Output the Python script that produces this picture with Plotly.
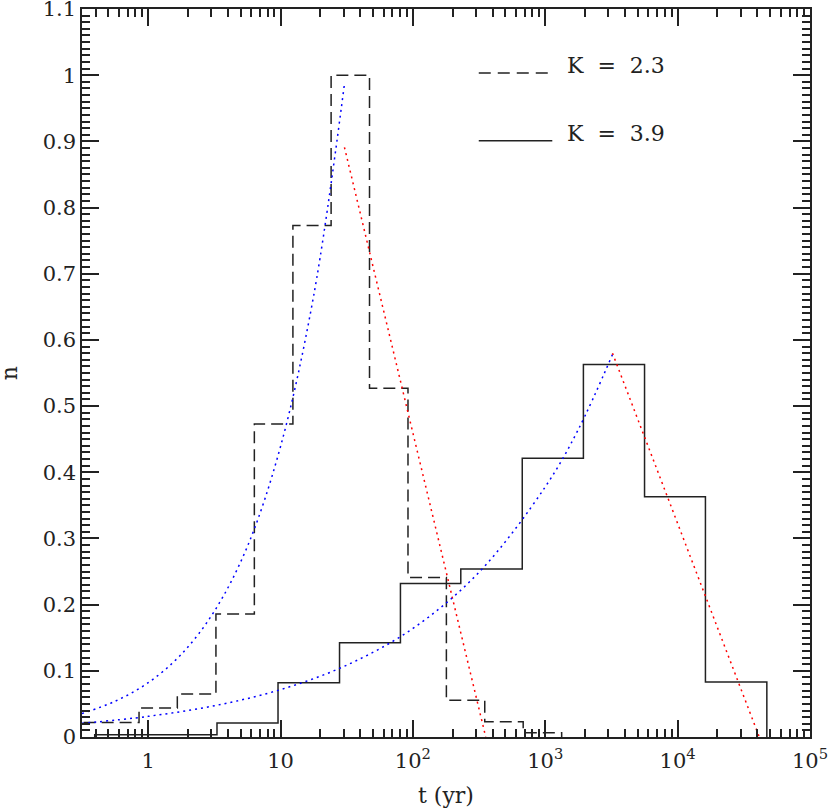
import plotly.graph_objects as go

# histogram bin edges (t in yr) and normalised counts
dashed_edges = [0.224, 0.437, 0.853, 1.66, 3.25, 6.34, 12.4, 24.1, 47.0, 91.8, 179, 349, 681, 1330]
dashed_n = [0.022, 0.022, 0.044, 0.065, 0.186, 0.473, 0.773, 1.0, 0.527, 0.241, 0.0555, 0.023, 0.0065]

solid_edges = [0.3945, 1.143, 3.31, 9.57, 27.9, 80.5, 230, 670, 1941, 5623, 16218, 47200]
solid_n = [0.0035, 0.0035, 0.021, 0.082, 0.1425, 0.232, 0.254, 0.421, 0.563, 0.363, 0.083]

# fitted curves (rising part: blue, falling part: red)
blue_dashed_t = [0.316, 0.562, 1.0, 1.78, 3.16, 5.62, 10.0, 17.8, 30.4]
blue_dashed_n = [0.0355, 0.054, 0.082, 0.125, 0.190, 0.288, 0.439, 0.667, 0.987]
red_dashed_t = [30.4, 355]
red_dashed_n = [0.891, 0.0]

blue_solid_t = [0.316, 1.0, 3.16, 10.0, 31.6, 100, 316, 1000, 1780, 3220]
blue_solid_n = [0.0206, 0.0312, 0.0472, 0.0716, 0.1085, 0.164, 0.249, 0.378, 0.465, 0.578]
red_solid_t = [3220, 41400]
red_solid_n = [0.58, 0.0]

x_tickvals = [1, 10, 100, 1000, 10000, 100000]
x_ticktext = ["1", "10", "10<sup>2</sup>", "10<sup>3</sup>", "10<sup>4</sup>", "10<sup>5</sup>"]
y_tickvals = [0, 0.1, 0.2, 0.3, 0.4, 0.5, 0.6, 0.7, 0.8, 0.9, 1.0, 1.1]
y_ticktext = ["0", "0.1", "0.2", "0.3", "0.4", "0.5", "0.6", "0.7", "0.8", "0.9", "1", "1.1"]

legend_labels = ["K\u00a0\u00a0=\u00a0\u00a02.3", "K\u00a0\u00a0=\u00a0\u00a03.9"]


def steps(edges, vals):
    xs, ys = [edges[0]], [0]
    for i, v in enumerate(vals):
        xs += [edges[i], edges[i + 1]]
        ys += [v, v]
    xs.append(edges[-1])
    ys.append(0)
    return xs, ys


FONT = "DejaVu Serif"
INK = "#222222"

fig = go.Figure()

dx, dy = steps(dashed_edges, dashed_n)
fig.add_trace(go.Scatter(x=dx, y=dy, mode="lines",
                         line=dict(color=INK, width=1.5, dash="12px,6px")))
sx, sy = steps(solid_edges, solid_n)
fig.add_trace(go.Scatter(x=sx, y=sy, mode="lines",
                         line=dict(color=INK, width=1.5)))

dot = "2px,4px"
fig.add_trace(go.Scatter(x=blue_dashed_t, y=blue_dashed_n, mode="lines", line_shape="spline",
                         line=dict(color="blue", width=1.5, dash=dot)))
fig.add_trace(go.Scatter(x=red_dashed_t, y=red_dashed_n, mode="lines",
                         line=dict(color="red", width=1.5, dash=dot)))
fig.add_trace(go.Scatter(x=blue_solid_t, y=blue_solid_n, mode="lines", line_shape="spline",
                         line=dict(color="blue", width=1.5, dash=dot)))
fig.add_trace(go.Scatter(x=red_solid_t, y=red_solid_n, mode="lines",
                         line=dict(color="red", width=1.5, dash=dot)))

# hand-drawn legend in paper coordinates
fig.add_shape(type="line", xref="paper", yref="paper", x0=0.545, x1=0.646, y0=0.912, y1=0.912,
              line=dict(color=INK, width=1.5, dash="12px,7px"))
fig.add_shape(type="line", xref="paper", yref="paper", x0=0.545, x1=0.646, y0=0.819, y1=0.819,
              line=dict(color=INK, width=1.5))
for lab, yy in zip(legend_labels, [0.922, 0.829]):
    fig.add_annotation(text=lab, xref="paper", yref="paper", x=0.664, y=yy,
                       xanchor="left", yanchor="middle", showarrow=False,
                       font=dict(family=FONT, size=22, color=INK))

# axis titles
fig.add_annotation(text="t (yr)", xref="paper", yref="paper", x=0.5, y=-0.08,
                   xanchor="center", yanchor="middle", showarrow=False,
                   font=dict(family=FONT, size=22, color=INK))
fig.add_annotation(text="n", xref="paper", yref="paper", x=-0.1, y=0.5, textangle=-90,
                   xanchor="center", yanchor="middle", showarrow=False,
                   font=dict(family=FONT, size=22, color=INK))

fig.update_xaxes(
    type="log", range=[-0.5, 5], automargin=False,
    tickmode="array", tickvals=x_tickvals, ticktext=x_ticktext,
    ticks="inside", ticklen=17, tickwidth=1.5, tickcolor=INK, ticklabelstandoff=4,
    ticklabeloverflow="allow",
    minor=dict(ticks="inside", ticklen=8, tickwidth=1.5, tickcolor=INK, showgrid=False,
               tickvals=[m * 10 ** k for k in range(-1, 5) for m in range(2, 10)]),
    showline=True, linecolor=INK, linewidth=1.5, mirror="ticks",
    showgrid=False, zeroline=False,
    tickfont=dict(family=FONT, size=21, color=INK),
)
fig.update_yaxes(
    range=[0, 1.1], automargin=False,
    tickmode="array", tickvals=y_tickvals, ticktext=y_ticktext,
    ticks="inside", ticklen=17, tickwidth=1.5, tickcolor=INK,
    ticklabeloverflow="allow",
    minor=dict(ticks="inside", ticklen=8, tickwidth=1.5, tickcolor=INK,
               tickmode="linear", tick0=0, dtick=0.01, showgrid=False),
    showline=True, linecolor=INK, linewidth=1.5, mirror="ticks",
    showgrid=False, zeroline=False,
    tickfont=dict(family=FONT, size=21, color=INK),
)

fig.update_layout(
    width=831, height=812,
    margin=dict(l=82, r=21, t=9, b=75),
    plot_bgcolor="white", paper_bgcolor="white",
    showlegend=False,
)

# drop the default body margin so the figure sits at the page origin
fig.write_html("out.html", config={"displayModeBar": False},
               post_script="document.body.style.margin='0';")
